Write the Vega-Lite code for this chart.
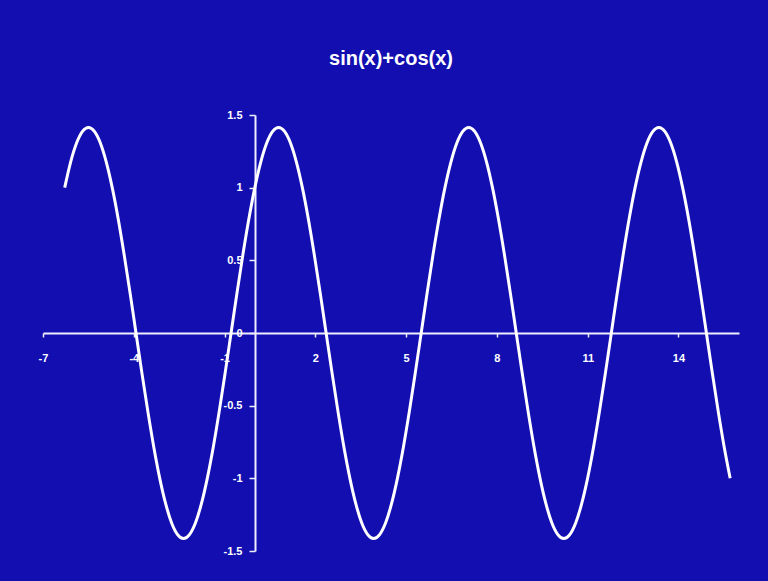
{
 "$schema": "https://vega.github.io/schema/vega-lite/v6.json",
 "width": 696,
 "height": 436,
 "autosize": {"type": "none"},
 "padding": {"left": 43, "top": 115, "right": 29, "bottom": 30},
 "background": "#120EB0",
 "title": {"text": "sin(x)+cos(x)", "color": "white", "font": "Liberation Sans", "fontSize": 20, "fontWeight": "bold", "offset": 40, "anchor": "middle"},
 "config": {"view": {"stroke": null}},
 "data": {"values": [
  {"x": -6.283, "y": 1.0}, {"x": -6.087, "y": 1.176}, {"x": -5.890, "y": 1.307}, {"x": -5.694, "y": 1.387}, {"x": -5.498, "y": 1.414}, {"x": -5.301, "y": 1.387}, {"x": -5.105, "y": 1.307}, {"x": -4.909, "y": 1.176},
  {"x": -4.712, "y": 1.0}, {"x": -4.516, "y": 0.786}, {"x": -4.320, "y": 0.541}, {"x": -4.123, "y": 0.276}, {"x": -3.927, "y": 0}, {"x": -3.731, "y": -0.276}, {"x": -3.534, "y": -0.541}, {"x": -3.338, "y": -0.786},
  {"x": -3.142, "y": -1.0}, {"x": -2.945, "y": -1.176}, {"x": -2.749, "y": -1.307}, {"x": -2.553, "y": -1.387}, {"x": -2.356, "y": -1.414}, {"x": -2.160, "y": -1.387}, {"x": -1.963, "y": -1.307}, {"x": -1.767, "y": -1.176},
  {"x": -1.571, "y": -1.0}, {"x": -1.374, "y": -0.786}, {"x": -1.178, "y": -0.541}, {"x": -0.982, "y": -0.276}, {"x": -0.785, "y": 0}, {"x": -0.589, "y": 0.276}, {"x": -0.393, "y": 0.541}, {"x": -0.196, "y": 0.786},
  {"x": 0, "y": 1.0}, {"x": 0.196, "y": 1.176}, {"x": 0.393, "y": 1.307}, {"x": 0.589, "y": 1.387}, {"x": 0.785, "y": 1.414}, {"x": 0.982, "y": 1.387}, {"x": 1.178, "y": 1.307}, {"x": 1.374, "y": 1.176},
  {"x": 1.571, "y": 1.0}, {"x": 1.767, "y": 0.786}, {"x": 1.963, "y": 0.541}, {"x": 2.160, "y": 0.276}, {"x": 2.356, "y": 0}, {"x": 2.553, "y": -0.276}, {"x": 2.749, "y": -0.541}, {"x": 2.945, "y": -0.786},
  {"x": 3.142, "y": -1.0}, {"x": 3.338, "y": -1.176}, {"x": 3.534, "y": -1.307}, {"x": 3.731, "y": -1.387}, {"x": 3.927, "y": -1.414}, {"x": 4.123, "y": -1.387}, {"x": 4.320, "y": -1.307}, {"x": 4.516, "y": -1.176},
  {"x": 4.712, "y": -1.0}, {"x": 4.909, "y": -0.786}, {"x": 5.105, "y": -0.541}, {"x": 5.301, "y": -0.276}, {"x": 5.498, "y": 0}, {"x": 5.694, "y": 0.276}, {"x": 5.890, "y": 0.541}, {"x": 6.087, "y": 0.786},
  {"x": 6.283, "y": 1.0}, {"x": 6.480, "y": 1.176}, {"x": 6.676, "y": 1.307}, {"x": 6.872, "y": 1.387}, {"x": 7.069, "y": 1.414}, {"x": 7.265, "y": 1.387}, {"x": 7.461, "y": 1.307}, {"x": 7.658, "y": 1.176},
  {"x": 7.854, "y": 1.0}, {"x": 8.050, "y": 0.786}, {"x": 8.247, "y": 0.541}, {"x": 8.443, "y": 0.276}, {"x": 8.639, "y": 0}, {"x": 8.836, "y": -0.276}, {"x": 9.032, "y": -0.541}, {"x": 9.228, "y": -0.786},
  {"x": 9.425, "y": -1.0}, {"x": 9.621, "y": -1.176}, {"x": 9.817, "y": -1.307}, {"x": 10.014, "y": -1.387}, {"x": 10.210, "y": -1.414}, {"x": 10.407, "y": -1.387}, {"x": 10.603, "y": -1.307}, {"x": 10.799, "y": -1.176},
  {"x": 10.996, "y": -1.0}, {"x": 11.192, "y": -0.786}, {"x": 11.388, "y": -0.541}, {"x": 11.585, "y": -0.276}, {"x": 11.781, "y": 0}, {"x": 11.977, "y": 0.276}, {"x": 12.174, "y": 0.541}, {"x": 12.370, "y": 0.786},
  {"x": 12.566, "y": 1.0}, {"x": 12.763, "y": 1.176}, {"x": 12.959, "y": 1.307}, {"x": 13.155, "y": 1.387}, {"x": 13.352, "y": 1.414}, {"x": 13.548, "y": 1.387}, {"x": 13.744, "y": 1.307}, {"x": 13.941, "y": 1.176},
  {"x": 14.137, "y": 1.0}, {"x": 14.334, "y": 0.786}, {"x": 14.530, "y": 0.541}, {"x": 14.726, "y": 0.276}, {"x": 14.923, "y": 0}, {"x": 15.119, "y": -0.276}, {"x": 15.315, "y": -0.541}, {"x": 15.512, "y": -0.786},
  {"x": 15.708, "y": -1.0}
 ]},
 "mark": {"type": "line", "color": "#FFFFFF", "strokeWidth": 3, "interpolate": "monotone"},
 "encoding": {
  "x": {"field": "x", "type": "quantitative",
   "scale": {"domain": [-7, 16], "nice": false, "zero": false},
   "axis": {"values": [-7, -4, -1, 2, 5, 8, 11, 14], "offset": -218, "grid": false, "title": null,
    "domainColor": "#EEEEFF", "domainWidth": 2, "tickColor": "#EEEEFF", "tickWidth": 1.5, "tickSize": 4,
    "labelColor": "#FFFFFF", "labelFont": "Liberation Sans", "labelFontSize": 11, "labelFontWeight": "bold",
    "labelPadding": 15, "labelExpr": "'' + datum.value", "labelFlush": false, "labelOverlap": false}},
  "y": {"field": "y", "type": "quantitative",
   "scale": {"domain": [-1.5, 1.5], "nice": false, "zero": false},
   "axis": {"values": [-1.5, -1, -0.5, 0, 0.5, 1, 1.5], "offset": -212, "grid": false, "title": null,
    "domainColor": "#EEEEFF", "domainWidth": 2, "tickColor": "#EEEEFF", "tickWidth": 1.5, "tickSize": 6,
    "labelColor": "#FFFFFF", "labelFont": "Liberation Sans", "labelFontSize": 11, "labelFontWeight": "bold",
    "labelPadding": 7, "labelExpr": "'' + datum.value", "labelFlush": false, "labelOverlap": false}}
 }
}
